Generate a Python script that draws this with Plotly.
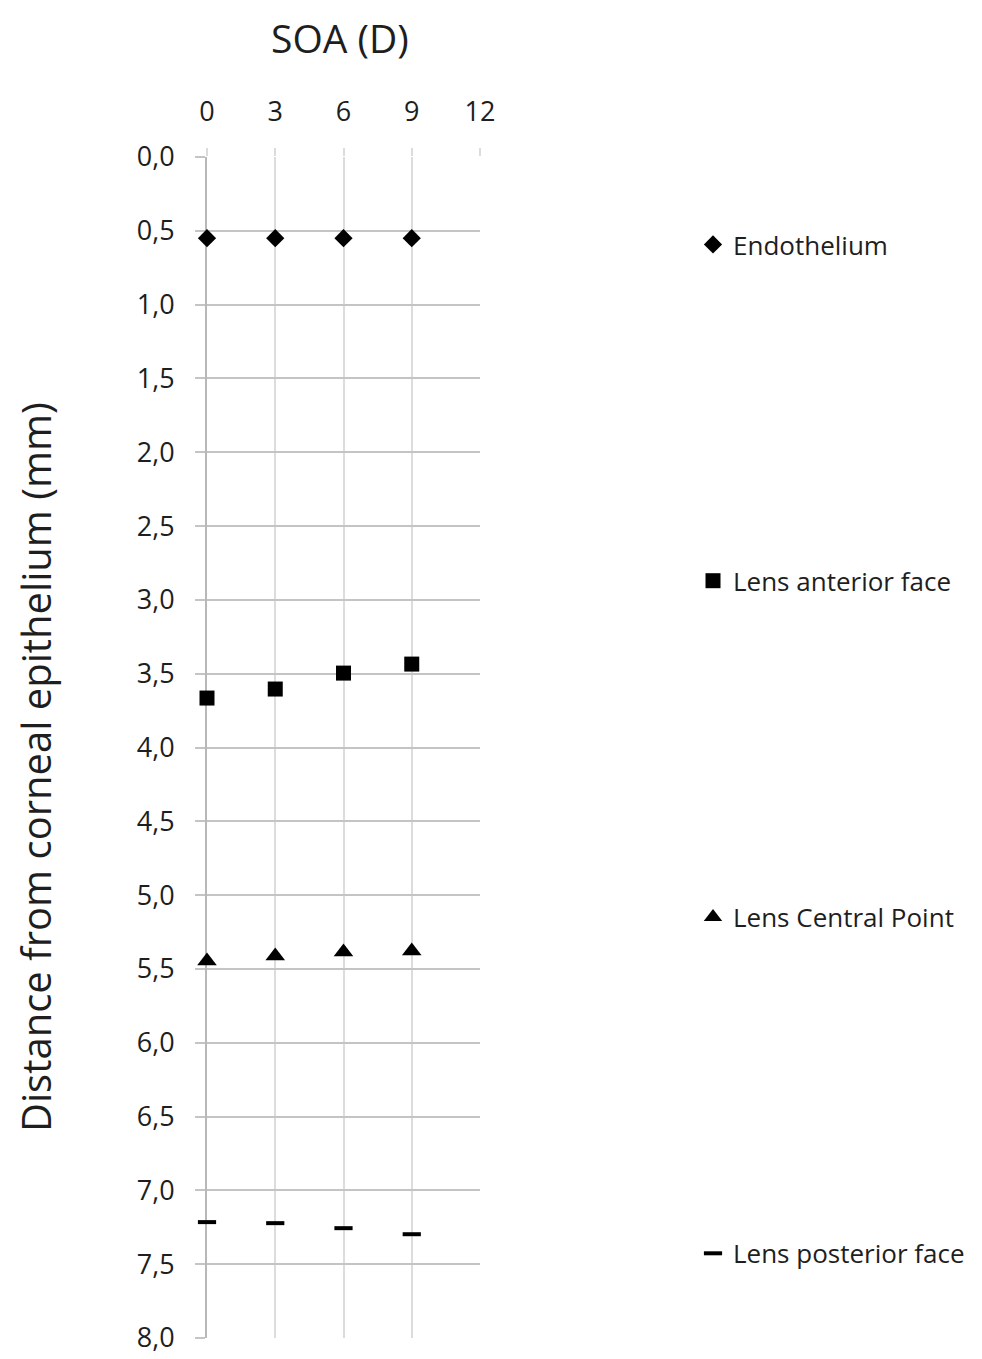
import plotly.graph_objects as go

soa = [0, 3, 6, 9]
endothelium = [0.55, 0.55, 0.55, 0.55]
lens_anterior = [3.665, 3.604, 3.496, 3.435]
lens_central = [5.447, 5.413, 5.386, 5.379]
lens_posterior = [7.215, 7.222, 7.256, 7.297]

x_ticks = [0, 3, 6, 9, 12]
y_ticks = [0, 0.5, 1, 1.5, 2, 2.5, 3, 3.5, 4, 4.5, 5, 5.5, 6, 6.5, 7, 7.5, 8]

FONT = "'Open Sans', sans-serif"
TXT = "#1e1e1e"
W, H = 974, 1351  # page body has an 8px margin
L, T, PW, PH = 199, 149, 273, 1181

fig = go.Figure()
series = [
    ("Endothelium", endothelium, dict(symbol="diamond", size=14, color="black")),
    ("Lens anterior face", lens_anterior, dict(symbol="square", size=15, color="black")),
    ("Lens Central Point", lens_central, dict(symbol="triangle-up", size=17, color="black")),
    ("Lens posterior face", lens_posterior, dict(symbol="line-ew", size=13, color="black",
                                                 line=dict(width=4, color="black"))),
]
for i, (name, vals, mk) in enumerate(series):
    fig.add_trace(go.Scatter(x=soa, y=vals, mode="markers", name=name, marker=mk,
                             cliponaxis=False, legendgroup=f"g{i}"))

fig.update_layout(
    width=W, height=H,
    margin=dict(l=L, r=502, t=T, b=21),
    paper_bgcolor="white", plot_bgcolor="white",
    separators=", ",
    font=dict(family=FONT, color=TXT, size=27),
    showlegend=True,
    legend=dict(xref="container", yref="container", x=685/W, y=1-213/H,
                xanchor="left", yanchor="top", tracegroupgap=299.5, maxheight=1300,
                font=dict(size=26, family=FONT, color=TXT), itemwidth=30),
    annotations=[
        dict(text="SOA (D)", xref="paper", yref="paper",
             x=(332-L)/PW, y=1+(T-1)/PH, xanchor="center", yanchor="top",
             showarrow=False, font=dict(size=39, family=FONT, color=TXT)),
        dict(text="Distance from corneal epithelium (mm)", textangle=-90,
             xref="paper", yref="paper", x=(27-L)/PW, y=1-(759-T)/PH,
             xanchor="center", yanchor="middle", showarrow=False,
             font=dict(size=40, family=FONT, color=TXT)),
    ],
)
fig.update_xaxes(range=[0, 12], side="top", tickvals=x_ticks, ticktext=[str(v) for v in x_ticks],
                 showgrid=True, gridcolor="#dcdcdc", gridwidth=2, zeroline=False,
                 ticks="outside", ticklen=8, tickcolor="#dcdcdc", tickwidth=2,
                 showline=False, tickfont=dict(size=27), ticklabelstandoff=16,
                 automargin=False, layer="below traces")
fig.update_yaxes(range=[8, 0], tickvals=y_ticks, tickformat=".1f",
                 showgrid=True, gridcolor="#c4c4c4", gridwidth=2, zeroline=False,
                 ticks="outside", ticklen=10, tickcolor="#c4c4c4", tickwidth=2,
                 showline=True, linecolor="#b8b8b8", linewidth=2,
                 tickfont=dict(size=27), ticklabelstandoff=15, automargin=False,
                 layer="below traces")

fig.write_html("out.html")
